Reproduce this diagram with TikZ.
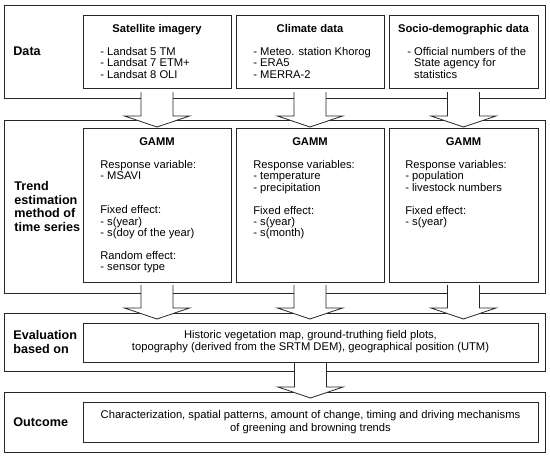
\documentclass[tikz,border=0pt]{standalone}
\usepackage{fontspec}
\setmainfont{Liberation Sans}
\usetikzlibrary{positioning,calc}

\newcommand{\flowarrow}[2]{%
  \draw[flow] let \p1=(#1), \p2=(#2) in
    (\x1-16pt,\y1) -- (\x1-16pt,\y2+11pt) -- (\x1-32.5pt,\y2+11pt) -- (\x1,\y2)
    -- (\x1+32.5pt,\y2+11pt) -- (\x1+16pt,\y2+11pt) -- (\x1+16pt,\y1);}

\begin{document}
\begin{tikzpicture}[x=1pt, y=-1pt, line width=0.8pt, draw=black!85,
    row/.style={draw, rectangle, inner sep=0pt, outer sep=0pt, minimum width=541pt},
    panel/.style={draw, rectangle, inner sep=0pt, outer sep=0pt, minimum width=148pt},
    heading/.style={font=\fontsize{11.2}{11.3}\selectfont\bfseries, inner sep=0pt},
    entry/.style={font=\fontsize{11.2}{11.4}\selectfont, align=left, inner sep=0pt},
    note/.style={font=\fontsize{11.2}{12.5}\selectfont, align=center, inner sep=0pt},
    rowlabel/.style={font=\fontsize{12.6}{13.5}\selectfont\bfseries, align=left, inner sep=0pt},
    flow/.style={draw=black!85, fill=white}]
      \useasboundingbox (0,0) rectangle (550,456);
      \node[row, minimum height=93pt] (datarow) at (274.5,51.5) {};
      \node[row, minimum height=173pt] (trendrow) at (274.5,206.5) {};
      \node[row, minimum height=58pt] (evalrow) at (274.5,342) {};
      \node[row, minimum height=60pt] (outrow) at (274.5,422) {};

      \node[panel, minimum height=73pt] (sat) at (157,51.5) {};
      \node[panel, minimum height=73pt, right=5pt of sat] (climate) {};
      \node[panel, minimum height=73pt, minimum width=149pt, right=5pt of climate] (socio) {};
      \node[panel, minimum height=154pt, below=40pt of sat] (gammsat) {};
      \node[panel, minimum height=154pt, below=40pt of climate] (gammclimate) {};
      \node[panel, minimum height=154pt, minimum width=149pt, below=40pt of socio] (gammsocio) {};
      \node[panel, minimum width=455pt, minimum height=39pt] (evalbox) at (310.5,342.5) {};
      \node[panel, minimum width=455pt, minimum height=40pt] (outbox) at (310.5,422) {};

      \flowarrow{$(sat.south)+(0,-4pt)$}{$(gammsat.north)+(0,1pt)$}
      \flowarrow{$(climate.south)+(0,-4pt)$}{$(gammclimate.north)+(0,1pt)$}
      \flowarrow{$(socio.south)+(0,-4pt)$}{$(gammsocio.north)+(0,1pt)$}
      \flowarrow{$(gammsat.south)+(0,-3pt)$}{$(evalbox.north)+(0,4pt)$}
      \flowarrow{$(gammclimate.south)+(0,-3pt)$}{$(evalbox.north)+(0,4pt)$}
      \flowarrow{$(gammsocio.south)+(0,-3pt)$}{$(evalbox.north)+(0,4pt)$}
      \flowarrow{$(evalbox.south)+(0,-1pt)$}{$(outbox.north)+(0,4pt)$}

      \node[rowlabel, right=9pt of datarow.west] (datalabel) {Data};
      \node[rowlabel, right=10pt of trendrow.west] (trendlabel) {Trend\\estimation\\method of\\time series};
      \node[rowlabel, right=9pt of evalrow.west] (evallabel) {Evaluation\\based on};
      \node[rowlabel, right=9pt of outrow.west] (outlabel) {Outcome};

      \node[heading, below=9pt of sat.north] (sattitle) {Satellite imagery};
      \node[heading, below=9pt of climate.north] (climatetitle) {Climate data};
      \node[heading, below=9pt of socio.north] (sociotitle) {Socio-demographic data};
      \node[entry, below right=32pt and 17pt of sat.north west] (satlist)
        {- Landsat 5 TM\\- Landsat 7 ETM+\\- Landsat 8 OLI};
      \node[entry, below right=32pt and 17pt of climate.north west] (climatelist)
        {- Meteo. station Khorog\\- ERA5\\- MERRA-2};
      \node[entry, below right=32pt and 18pt of socio.north west] (sociolist)
        {- Official numbers of the\\\phantom{- }State agency for\\\phantom{- }statistics};

      \node[heading, below=9pt of gammsat.north] (gammsattitle) {GAMM};
      \node[heading, below=9pt of gammclimate.north] (gammclimatetitle) {GAMM};
      \node[heading, below=9pt of gammsocio.north] (gammsociotitle) {GAMM};
      \node[entry, below right=32pt and 17pt of gammsat.north west] (gammsatlist)
        {Response variable:\\- MSAVI\\[22.6pt]Fixed effect:\\- s(year)\\- s(doy of the year)\\[11.3pt]Random effect:\\- sensor type};
      \node[entry, below right=32pt and 17pt of gammclimate.north west] (gammclimatelist)
        {Response variables:\\- temperature\\- precipitation\\[11.3pt]Fixed effect:\\- s(year)\\- s(month)};
      \node[entry, below right=32pt and 16pt of gammsocio.north west] (gammsociolist)
        {Response variables:\\- population\\- livestock numbers\\[11.3pt]Fixed effect:\\- s(year)};

      \node[note] (evaltext) at ($(evalbox.center)+(0,1pt)$)
        {Historic vegetation map, ground-truthing field plots,\\topography (derived from the SRTM DEM), geographical position (UTM)};
      \node[note] (outtext) at (outbox.center)
        {Characterization, spatial patterns, amount of change, timing and driving mechanisms\\of greening and browning trends};
\end{tikzpicture}
\end{document}
